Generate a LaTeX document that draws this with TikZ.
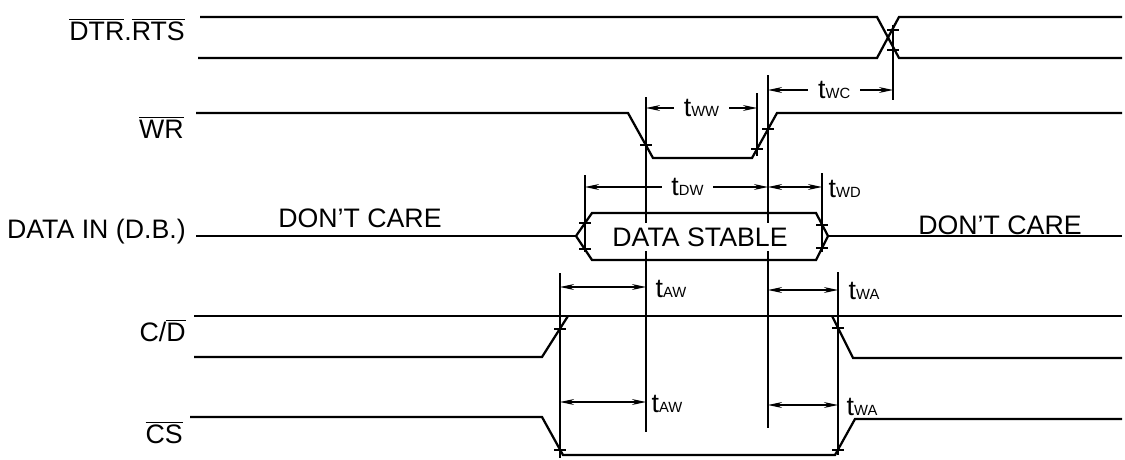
\documentclass[tikz,border=0pt]{standalone}
\usepackage{fontspec}
\setmainfont{Liberation Sans}
\usetikzlibrary{arrows.meta}
\newcommand{\ovl}[1]{$\overline{\mbox{#1}}$}
\newcommand{\tsub}[1]{t{\fontsize{10.5}{11}\selectfont #1}}
\tikzset{
  sig/.style={line width=1.6pt, line join=miter},
  ext/.style={line width=0.75pt},
  dim/.style={line width=0.75pt, {Stealth[length=10pt,width=4.2pt]}-{Stealth[length=10pt,width=4.2pt]}},
  lbl/.style={font=\fontsize{19}{22}\selectfont, inner sep=0pt},
  tlbl/.style={font=\fontsize{19}{22}\selectfont, inner sep=1pt},
  gap/.style={fill=white, inner xsep=7pt, inner ysep=1pt},
}
\begin{document}
\begin{tikzpicture}[x=0.025cm, y=-0.025cm]
  \useasboundingbox (0,0) rectangle (1125,460);
  % signal names
  \node[lbl, anchor=base east] (ndtr) at (185,40) {\ovl{DTR}.\ovl{RTS}};
  \node[lbl, anchor=base east] (nwr) at (184,138) {\ovl{WR}};
  \node[lbl, anchor=base east] (ndata) at (186,238) {DATA IN (D.B.)};
  \node[lbl, anchor=base east] (ncd) at (186,341) {C/\ovl{D}};
  \node[lbl, anchor=base east] (ncs) at (183,443) {\ovl{CS}};

  % DTR.RTS
  \draw[sig] (200,17) -- (877,17) -- (899,58) -- (1122,58);
  \draw[sig] (198,58) -- (877,58) -- (899,17) -- (1122,17);
  % WR
  \draw[sig] (196,113) -- (628,113) -- (653,158) -- (752,158) -- (777,113) -- (1122,113);
  % DATA IN
  \draw[sig] (196,236) -- (576,236);
  \draw[sig] (576,236) -- (592,213) -- (816,213) -- (828,236) -- (816,260) -- (592,260) -- cycle;
  \draw[sig] (828,236) -- (1122,236);
  \node[lbl] (dcl) at (360,218) {DON’T CARE};
  \node[lbl] (dcr) at (1000,225) {DON’T CARE};
  % C/D
  \draw[sig] (194,316) -- (1122,316);
  \draw[sig] (194,357) -- (542,357) -- (568,316);
  \draw[sig] (832,316) -- (853,358) -- (1122,358);
  % CS
  \draw[sig] (190,417) -- (542,417) -- (563,455) -- (835,455) -- (855,419) -- (1122,419);

  % extension lines
  \foreach \x/\ya/\yb in {560/273/458, 585/175/252, 646/97/432, 757/93/156,
                          768/75/428, 822/173/252, 838/272/455, 893/25/100}
    \draw[ext] (\x,\ya) -- (\x,\yb);
  % threshold ticks
  \foreach \x/\y in {893/30, 893/50, 646/145, 757/149, 768/129, 585/223, 585/249,
                     822/225, 822/248, 560/329, 838/328, 560/450, 838/450}
    \draw[ext] (\x-6,\y) -- (\x+6,\y);
  \node[lbl, fill=white, inner xsep=1pt, inner ysep=3pt] (dstab) at (700,237) {DATA STABLE};

  % timing parameters
  \draw[dim] (646,108) -- (757,108) node[midway, tlbl, gap] (tww) {\tsub{WW}};
  \draw[dim] (768,90) -- (893,90) node[pos=0.53, tlbl, gap] (twc) {\tsub{WC}};
  \draw[dim] (585,187) -- (768,187) node[pos=0.56, tlbl, gap] (tdw) {\tsub{DW}};
  \draw[dim] (768,187) -- (822,187);
  \node[tlbl, anchor=west] (twd) at (827,189) {\tsub{WD}};
  \draw[dim] (560,287) -- (646,287);
  \node[tlbl, anchor=west] (taw1) at (654,289) {\tsub{AW}};
  \draw[dim] (768,290) -- (838,290);
  \node[tlbl, anchor=west] (twa1) at (847,291) {\tsub{WA}};
  \draw[dim] (560,402) -- (646,402);
  \node[tlbl, anchor=west] (taw2) at (650,404) {\tsub{AW}};
  \draw[dim] (768,405) -- (838,405);
  \node[tlbl, anchor=west] (twa2) at (845,407) {\tsub{WA}};
\end{tikzpicture}
\end{document}
